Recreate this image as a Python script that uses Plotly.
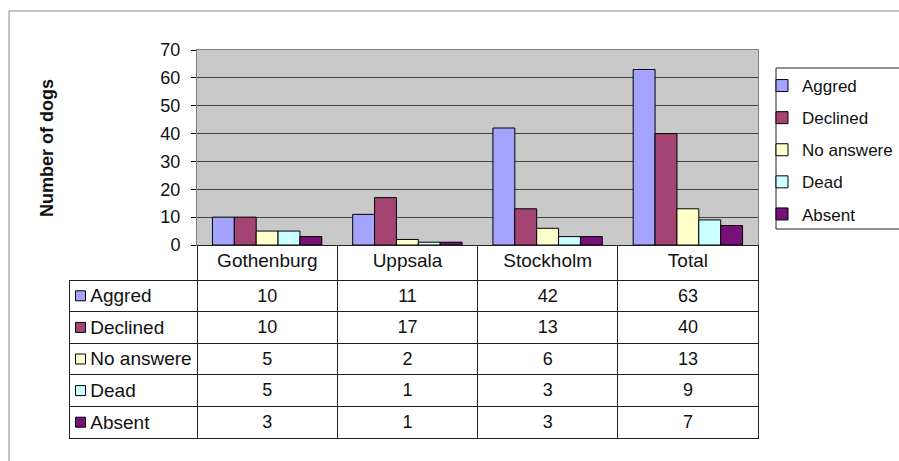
import plotly.graph_objects as go

# ---------------- data ----------------
categories = ["Gothenburg", "Uppsala", "Stockholm", "Total"]
series_names = ["Aggred", "Declined", "No answere", "Dead", "Absent"]
aggred = [10, 11, 42, 63]
declined = [10, 17, 13, 40]
no_answere = [5, 2, 6, 13]
dead = [5, 1, 3, 9]
absent = [3, 1, 3, 7]
y_title = "Number of dogs"

series_values = [aggred, declined, no_answere, dead, absent]
colors = ["#A4A4FF", "#A44472", "#FFFFCC", "#CCFFFF", "#771177"]

W, H = 899, 461
FONT = "Liberation Sans, Arial, sans-serif"
PLOT_GRAY = "#C9C9C9"


def px(x):
    return x / W


def py(y):
    return 1 - y / H


fig = go.Figure()
for name, vals, col in zip(series_names, series_values, colors):
    fig.add_trace(go.Bar(
        name=name, x=categories, y=vals, legendgroup=name,
        marker=dict(color=col, line=dict(color="black", width=1)),
        hoverinfo="x+y+name",
    ))

# ---------------- data table under the chart ----------------
TABLE_X0, TABLE_X1 = 69, 758
FIRST_COL_W = 128
TABLE_TOP = 245
HEADER_H, ROW_H = 35, 31.6
body_top = TABLE_TOP + HEADER_H
table_bottom = body_top + ROW_H * len(series_names) + 2

# non-breaking spaces so the table does not wrap the labels
name_col = ["\u2002\u2009" + n.replace(" ", "\u00A0") for n in series_names]
table_cols = [name_col] + [
    [str(vals[i]) for vals in series_values] for i in range(len(categories))
]
fig.add_trace(go.Table(
    domain=dict(x=[px(TABLE_X0), px(TABLE_X1)], y=[py(table_bottom), py(TABLE_TOP)]),
    columnwidth=[FIRST_COL_W, 140, 140, 140, 140],
    header=dict(
        values=[""] + categories,
        height=HEADER_H,
        align="center",
        fill=dict(color=["rgba(0,0,0,0)"] + ["white"] * len(categories)),
        line=dict(color=["rgba(0,0,0,0)"] + ["#222"] * len(categories), width=1),
        font=dict(family=FONT, size=19, color="#111"),
    ),
    cells=dict(
        values=table_cols,
        height=ROW_H,
        align=["left"] + ["center"] * len(categories),
        fill=dict(color="rgba(0,0,0,0)"),
        line=dict(color="#222", width=1),
        font=dict(family=FONT, size=[19] + [18] * len(categories), color="#111"),
    ),
))

# colour keys in the first table column (square markers on a hidden subplot)
KEY_OFFSET = 11.5  # px from the table's left edge to the key centre
fig.add_trace(go.Scatter(
    x=[0] * len(series_names), y=series_names,
    mode="markers", showlegend=False, hoverinfo="skip",
    marker=dict(symbol="square", size=10, color=colors,
                line=dict(color="black", width=1)),
    xaxis="x2", yaxis="y2",
))

fig.update_layout(
    width=W, height=H,
    margin=dict(l=0, r=0, t=0, b=0),
    paper_bgcolor="white",
    plot_bgcolor="rgba(0,0,0,0)",
    font=dict(family=FONT, size=17, color="#111"),
    barmode="group",
    bargap=0.22,
    bargroupgap=0,
    showlegend=True,
    legend=dict(
        x=px(762), y=py(68), xanchor="left", yanchor="top",
        bgcolor="rgba(0,0,0,0)", borderwidth=0,
        tracegroupgap=7,
        font=dict(family=FONT, size=17, color="#111"),
    ),
    xaxis=dict(
        domain=[px(197), px(758)], range=[-0.5, 3.5],
        showticklabels=False, ticks="", showgrid=False,
        showline=True, linecolor="#808080", mirror=True,
        automargin=False,
    ),
    yaxis=dict(
        domain=[py(245), py(50)], range=[0, 70], dtick=10,
        showgrid=True, gridcolor="#444", gridwidth=1,
        ticks="outside", ticklen=5, tickcolor="#000",
        ticklabelstandoff=7,
        tickfont=dict(family=FONT, size=18, color="#111"),
        showline=True, linecolor="#808080", mirror=True,
        zeroline=False, automargin=False,
    ),
    xaxis2=dict(
        domain=[px(TABLE_X0), px(TABLE_X0 + FIRST_COL_W)],
        range=[-KEY_OFFSET, FIRST_COL_W - KEY_OFFSET],
        visible=False, anchor="y2", fixedrange=True,
    ),
    yaxis2=dict(
        domain=[py(body_top + ROW_H * len(series_names)), py(body_top)],
        type="category", categoryorder="array", categoryarray=series_names,
        range=[len(series_names) - 0.5, -0.5],
        visible=False, anchor="x2", fixedrange=True,
    ),
    shapes=[
        # gray plot area of the bar chart (below the gridlines)
        dict(type="rect", xref="x domain", yref="y domain",
             x0=0, y0=0, x1=1, y1=1, line=dict(width=0),
             fillcolor=PLOT_GRAY, layer="below"),
        dict(type="rect", xref="paper", yref="paper",
             x0=px(9), y0=py(11), x1=1.05, y1=-0.05,
             line=dict(color="#888", width=1), fillcolor="rgba(0,0,0,0)", layer="below"),
        dict(type="rect", xref="paper", yref="paper",
             x0=px(776), y0=py(68), x1=1.05, y1=py(229),
             line=dict(color="#222", width=1), fillcolor="white", layer="below"),
    ],
    annotations=[
        dict(text=y_title, xref="paper", yref="paper", x=px(47), y=py(148),
             xanchor="center", yanchor="middle",
             textangle=-90, showarrow=False,
             font=dict(family=FONT, size=18, color="#111", weight="bold")),
    ],
)

fig.write_html(
    "out.html",
    config={"displayModeBar": False},
    post_script="document.body.style.margin='0';document.body.style.overflow='hidden';",
)
